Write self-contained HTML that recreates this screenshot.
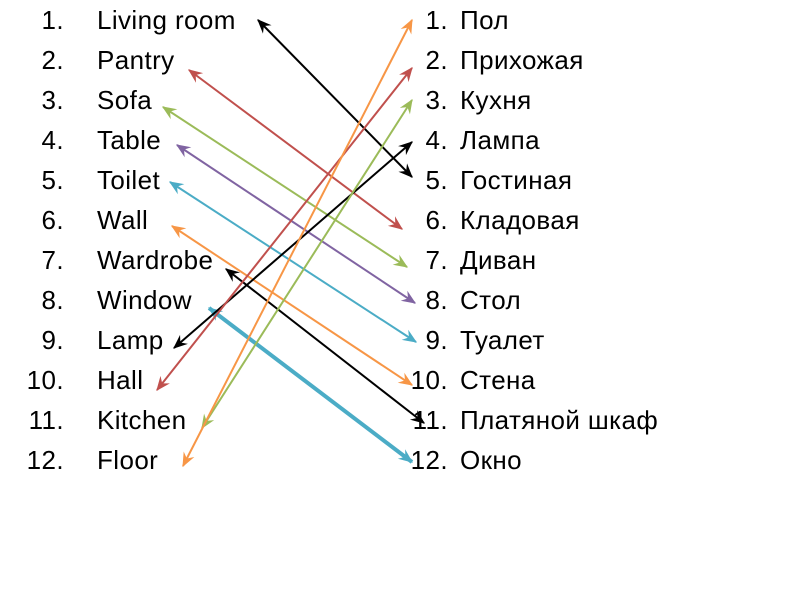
<!DOCTYPE html>
<html><head><meta charset="utf-8"><style>
body{margin:0;background:#fff;width:800px;height:600px;overflow:hidden;position:relative;font-family:"Liberation Sans",sans-serif;}
.r{position:absolute;font-size:26px;line-height:40px;color:#000;white-space:nowrap;letter-spacing:0.4px}
.n{text-align:right;width:60px}
</style></head><body>
<div class="r n" style="left:4px;top:0">1.<br>2.<br>3.<br>4.<br>5.<br>6.<br>7.<br>8.<br>9.<br>10.<br>11.<br>12.</div>
<div class="r" style="left:97px;top:0">Living room<br>Pantry<br>Sofa<br>Table<br>Toilet<br>Wall<br>Wardrobe<br>Window<br>Lamp<br>Hall<br>Kitchen<br>Floor</div>
<div class="r n" style="left:388px;top:0">1.<br>2.<br>3.<br>4.<br>5.<br>6.<br>7.<br>8.<br>9.<br>10.<br>11.<br>12.</div>
<div class="r" style="left:460px;top:0">Пол<br>Прихожая<br>Кухня<br>Лампа<br>Гостиная<br>Кладовая<br>Диван<br>Стол<br>Туалет<br>Стена<br>Платяной шкаф<br>Окно</div>
<svg width="800" height="600" style="position:absolute;left:0;top:0">
<defs>
<marker id="a" viewBox="0 0 10 10" refX="9" refY="5" markerWidth="12" markerHeight="12" orient="auto-start-reverse" markerUnits="userSpaceOnUse" style="overflow:visible"><path d="M-2,0 L10,5 L-2,10 L2,5 Z" fill="context-stroke"/></marker>
</defs>
<g fill="none" stroke-width="2">
<line x1="258" y1="20" x2="412" y2="177" stroke="#000" marker-start="url(#a)" marker-end="url(#a)"/>
<line x1="189" y1="70" x2="402" y2="229" stroke="#c0504d" marker-start="url(#a)" marker-end="url(#a)"/>
<line x1="163" y1="107" x2="407" y2="267" stroke="#9bbb59" marker-start="url(#a)" marker-end="url(#a)"/>
<line x1="177" y1="145" x2="415" y2="303" stroke="#8064a2" marker-start="url(#a)" marker-end="url(#a)"/>
<line x1="170" y1="182" x2="416" y2="342" stroke="#4bacc6" marker-start="url(#a)" marker-end="url(#a)"/>
<line x1="172" y1="226" x2="412" y2="385" stroke="#f79646" marker-start="url(#a)" marker-end="url(#a)"/>
<line x1="226" y1="269" x2="424" y2="423" stroke="#000" marker-start="url(#a)" marker-end="url(#a)"/>
<line x1="209" y1="308" x2="412" y2="462" stroke="#4bacc6" stroke-width="4" marker-start="url(#a)" marker-end="url(#a)"/>
<line x1="412" y1="142" x2="174" y2="348" stroke="#000" marker-start="url(#a)" marker-end="url(#a)"/>
<line x1="412" y1="68" x2="157" y2="390" stroke="#c0504d" marker-start="url(#a)" marker-end="url(#a)"/>
<line x1="412" y1="100" x2="202" y2="428" stroke="#9bbb59" marker-start="url(#a)" marker-end="url(#a)"/>
<line x1="412" y1="20" x2="183" y2="466" stroke="#f79646" marker-start="url(#a)" marker-end="url(#a)"/>
</g>
</svg>
</body></html>
